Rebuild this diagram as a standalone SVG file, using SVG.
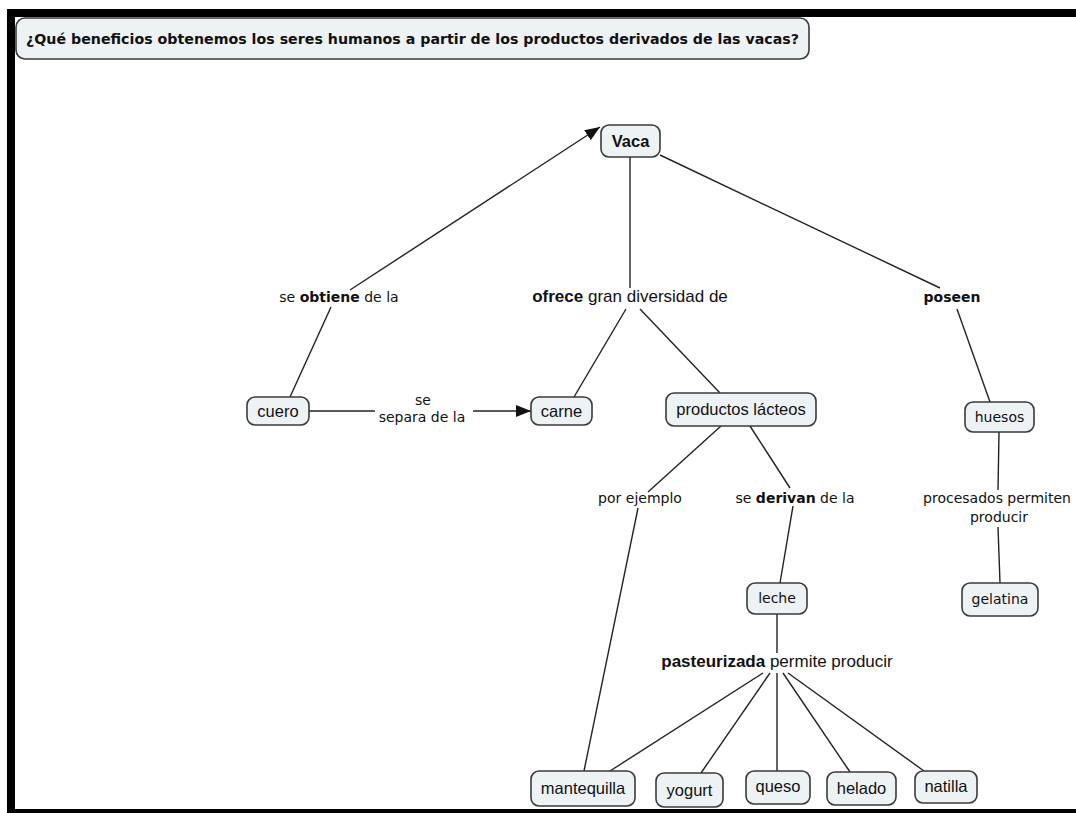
<svg xmlns="http://www.w3.org/2000/svg" width="1076" height="813" viewBox="0 0 1076 813">
<style>
.node rect{fill:#edf2f5;stroke:#3a3a3a;stroke-width:1.6}
.a{font-family:"Liberation Sans",Arial,sans-serif;font-size:16.5px;fill:#111;text-anchor:middle}
.v{font-family:"DejaVu Sans",Verdana,sans-serif;font-size:14px;fill:#111;text-anchor:middle}
.al{font-family:"Liberation Sans",Arial,sans-serif;font-size:17px;fill:#111;text-anchor:middle}
.b{font-weight:bold}
#connectors line{stroke:#222;stroke-width:1.4;fill:none}
</style>
<defs>
<marker id="arr" viewBox="0 0 15 12" refX="15" refY="6" markerWidth="15" markerHeight="12" markerUnits="userSpaceOnUse" orient="auto">
<path d="M0,0 L15,6 L0,12 Z" fill="#111"/>
</marker>
</defs>
<rect width="1076" height="813" fill="#fff"/>
<g id="frame">
<rect x="7" y="9" width="1069" height="8" fill="#000"/>
<rect x="7" y="9" width="8" height="804" fill="#000"/>
<rect x="7" y="809" width="1069" height="4" fill="#000"/>
</g>
<g id="title" class="node">
<rect x="16" y="18" width="793" height="41" rx="9"/>
<text x="26" y="44" font-family="'DejaVu Sans',Verdana,sans-serif" font-size="14.2" font-weight="bold" fill="#111" textLength="773" lengthAdjust="spacingAndGlyphs">¿Qué beneficios obtenemos los seres humanos a partir de los productos derivados de las vacas?</text>
</g>
<g id="connectors">
<line x1="350" y1="290" x2="600" y2="127" marker-end="url(#arr)"/>
<line x1="290" y1="397" x2="331" y2="307"/>
<line x1="630" y1="157" x2="630" y2="288"/>
<line x1="626" y1="309" x2="574" y2="397"/>
<line x1="640" y1="309" x2="720" y2="393"/>
<line x1="660" y1="155" x2="940" y2="288"/>
<line x1="957" y1="309" x2="990" y2="402"/>
<line x1="309" y1="411" x2="375" y2="411"/>
<line x1="473" y1="411" x2="531" y2="411" marker-end="url(#arr)"/>
<line x1="721" y1="426" x2="648" y2="492"/>
<line x1="750" y1="426" x2="790" y2="488"/>
<line x1="638" y1="508" x2="584" y2="771"/>
<line x1="793" y1="506" x2="780" y2="583"/>
<line x1="777" y1="614" x2="777" y2="653"/>
<line x1="763" y1="673" x2="610" y2="771"/>
<line x1="770" y1="673" x2="701" y2="773"/>
<line x1="777" y1="673" x2="777" y2="772"/>
<line x1="783" y1="673" x2="850" y2="772"/>
<line x1="788" y1="673" x2="924" y2="771"/>
<line x1="999" y1="432" x2="998" y2="490"/>
<line x1="998" y1="527" x2="1000" y2="583"/>
</g>
<g id="link-labels">
<text class="v" x="339" y="302">se <tspan class="b">obtiene</tspan> de la</text>
<text class="al" x="630" y="302"><tspan class="b">ofrece</tspan> gran diversidad de</text>
<text class="v b" x="952" y="302">poseen</text>
<text class="v" x="423" y="405">se</text>
<text class="v" x="422" y="422">separa de la</text>
<text class="v" x="640" y="503">por ejemplo</text>
<text class="v" x="795" y="503">se <tspan class="b">derivan</tspan> de la</text>
<text class="v" x="997" y="503">procesados permiten</text>
<text class="v" x="999" y="522">producir</text>
<text class="al" x="777" y="667"><tspan class="b">pasteurizada</tspan> permite producir</text>
</g>
<g id="vaca" class="node"><rect x="601" y="125" width="59" height="32" rx="8"/><text class="a b" x="630.5" y="147">Vaca</text></g>
<g id="cuero" class="node"><rect x="247" y="397" width="62" height="28" rx="8"/><text class="a" x="278" y="417">cuero</text></g>
<g id="carne" class="node"><rect x="531" y="397" width="61" height="28" rx="8"/><text class="a" x="561.5" y="417">carne</text></g>
<g id="productos-lacteos" class="node"><rect x="666" y="393" width="150" height="33" rx="8"/><text class="a" x="741" y="415">productos lácteos</text></g>
<g id="huesos" class="node"><rect x="965" y="402" width="69" height="30" rx="8"/><text class="v" x="999.5" y="422">huesos</text></g>
<g id="leche" class="node"><rect x="747" y="583" width="60" height="31" rx="8"/><text class="v" x="777" y="603">leche</text></g>
<g id="gelatina" class="node"><rect x="962" y="583" width="76" height="33" rx="8"/><text class="v" x="1000" y="604">gelatina</text></g>
<g id="mantequilla" class="node"><rect x="531" y="771" width="104" height="35" rx="8"/><text class="a" x="583" y="794">mantequilla</text></g>
<g id="yogurt" class="node"><rect x="656" y="773" width="67" height="34" rx="8"/><text class="a" x="689.5" y="796">yogurt</text></g>
<g id="queso" class="node"><rect x="746" y="771" width="64" height="33" rx="8"/><text class="a" x="778" y="792">queso</text></g>
<g id="helado" class="node"><rect x="827" y="772" width="69" height="33" rx="8"/><text class="a" x="861.5" y="794">helado</text></g>
<g id="natilla" class="node"><rect x="915" y="771" width="62" height="32" rx="8"/><text class="a" x="946" y="792">natilla</text></g>
</svg>
